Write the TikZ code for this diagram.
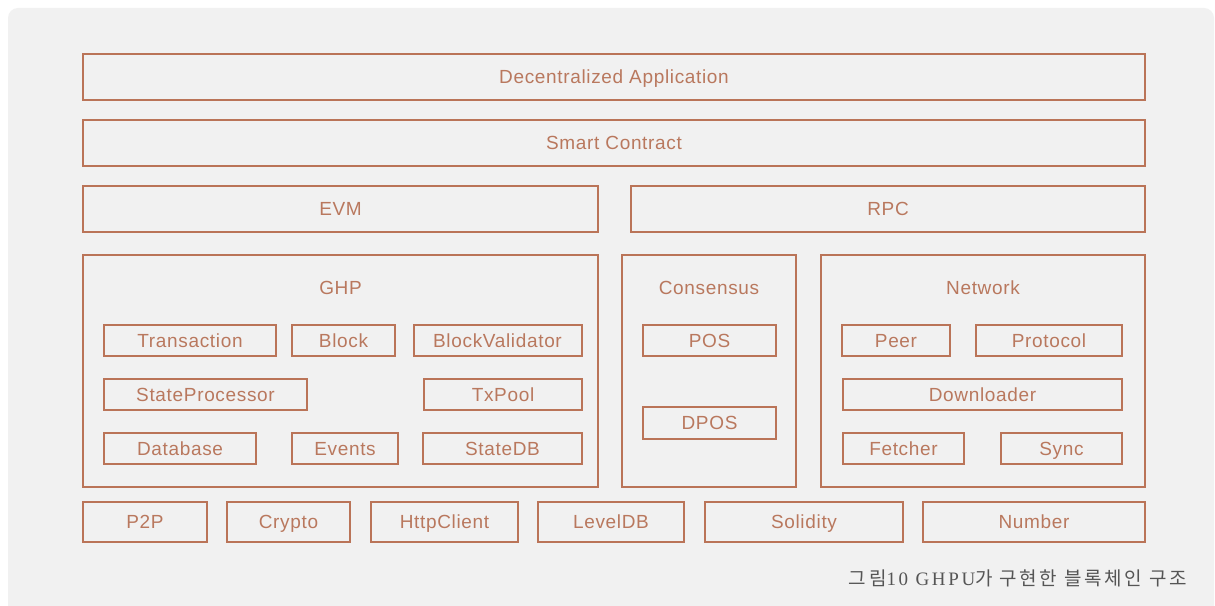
\documentclass[tikz,border=0pt]{standalone}
\usepackage{fontspec}
\setmainfont{Liberation Sans}
\newfontfamily\labfont{Liberation Sans}[LetterSpace=3.5]
\newfontfamily\krfont{Noto Sans CJK KR}[LetterSpace=14]
\newfontfamily\capserif{Liberation Serif}[LetterSpace=14]
\definecolor{lc}{RGB}{186,116,88}
\definecolor{tc}{RGB}{185,120,94}
\definecolor{bgc}{RGB}{241,241,241}
\definecolor{capc}{RGB}{85,85,85}
\tikzset{
  box/.style={draw=lc, line width=2bp, text=tc, inner sep=0pt, text height=17.6bp, text depth=4bp,
    font=\labfont\fontsize{19bp}{22bp}\selectfont},
  grp/.style={draw=lc, line width=2bp, inner sep=0pt},
  title/.style={text=tc, inner sep=0pt, text height=17.6bp, text depth=4bp,
    font=\labfont\fontsize{19bp}{22bp}\selectfont},
}
\begin{document}
\begin{tikzpicture}[x=1bp,y=-1bp]
\useasboundingbox (0,0) rectangle (1215,606);
\clip (0,0) rectangle (1215,606);
\fill[white] (0,0) rectangle (1215,606);
\fill[bgc, rounded corners=10bp] (8,8) rectangle (1214,630);
% top layers
\node[box, minimum width=1062bp, minimum height=46bp] (dapp) at (614,77) {Decentralized Application};
\node[box, minimum width=1062bp, minimum height=46bp] (sc) at (614,143) {Smart Contract};
\node[box, minimum width=515bp, minimum height=46bp] (evm) at (340.5,209) {EVM};
\node[box, minimum width=514bp, minimum height=46bp] (rpc) at (888,209) {RPC};
% groups
\node[grp, minimum width=515bp, minimum height=232bp] (ghp) at (340.5,371) {};
\node[title] (ghpt) at (340.5,287.5) {GHP};
\node[grp, minimum width=174bp, minimum height=232bp] (cons) at (709,371) {};
\node[title] (const) at (709,288) {Consensus};
\node[grp, minimum width=324bp, minimum height=232bp] (net) at (983,371) {};
\node[title] (nett) at (983,288) {Network};
% GHP contents
\node[box, minimum width=172bp, minimum height=31bp] (tx) at (190,340.5) {Transaction};
\node[box, minimum width=103bp, minimum height=31bp] (blk) at (343.5,340.5) {Block};
\node[box, minimum width=168bp, minimum height=31bp] (bv) at (497.5,340.5) {BlockValidator};
\node[box, minimum width=203bp, minimum height=31bp] (sp) at (205.5,394.5) {StateProcessor};
\node[box, minimum width=158bp, minimum height=31bp] (txp) at (503,394.5) {TxPool};
\node[box, minimum width=152bp, minimum height=31bp] (db) at (180,448.5) {Database};
\node[box, minimum width=106bp, minimum height=31bp] (ev) at (345,448.5) {Events};
\node[box, minimum width=159bp, minimum height=31bp] (sdb) at (502.5,448.5) {StateDB};
% Consensus contents
\node[box, minimum width=133bp, minimum height=31bp] (pos) at (709.5,340.5) {POS};
\node[box, minimum width=133bp, minimum height=32bp] (dpos) at (709.5,423) {DPOS};
% Network contents
\node[box, minimum width=108bp, minimum height=31bp] (peer) at (896,340.5) {Peer};
\node[box, minimum width=146bp, minimum height=31bp] (proto) at (1049,340.5) {Protocol};
\node[box, minimum width=279bp, minimum height=31bp] (dl) at (982.5,394.5) {Downloader};
\node[box, minimum width=121bp, minimum height=31bp] (fet) at (903.5,448.5) {Fetcher};
\node[box, minimum width=121bp, minimum height=31bp] (sync) at (1061.5,448.5) {Sync};
% bottom row
\node[box, minimum width=124bp, minimum height=40bp] (p2p) at (145,522) {P2P};
\node[box, minimum width=123bp, minimum height=40bp] (cry) at (288.5,522) {Crypto};
\node[box, minimum width=147bp, minimum height=40bp] (http) at (444.5,522) {HttpClient};
\node[box, minimum width=146bp, minimum height=40bp] (ldb) at (611,522) {LevelDB};
\node[box, minimum width=198bp, minimum height=40bp] (sol) at (804,522) {Solidity};
\node[box, minimum width=222bp, minimum height=40bp] (num) at (1034,522) {Number};
% caption
\node[anchor=east, inner sep=0pt, text=capc, font=\fontsize{19bp}{22bp}\selectfont] (cap) at (1187,578.5)
  {{\krfont 그림}{\capserif 10 GHPU}{\krfont 가 구현한 블록체인 구조}};
\end{tikzpicture}
\end{document}
